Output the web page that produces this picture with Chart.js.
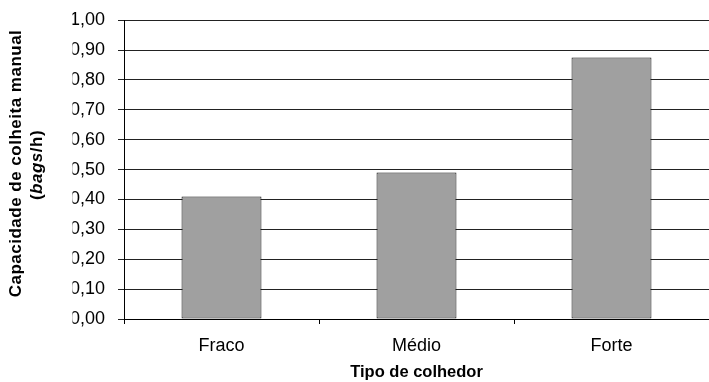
<!DOCTYPE html>
<html>
<head>
<meta charset="utf-8">
<script src="https://cdn.jsdelivr.net/npm/chart.js@4"></script>
<style>
  html, body { margin: 0; padding: 0; background: #fff; }
  canvas { display: block; }
</style>
</head>
<body>
<canvas id="grafico" width="709" height="382"></canvas>
<script>
// datos del gráfico
const categorias = ["Fraco", "Médio", "Forte"]
const capacidade = [0.41, 0.49, 0.875]
const yTickLabels = ["0,00", "0,10", "0,20", "0,30", "0,40", "0,50", "0,60", "0,70", "0,80", "0,90", "1,00"]
const tituloX = "Tipo de colhedor"
const tituloY1 = "Capacidade de colheita manual"
const tituloY2 = ["(", "bags", "/h)"]

const fonte = "'Liberation Sans', Arial, sans-serif"

// título del eje Y (dos líneas, "bags" en cursiva) + recorte de las etiquetas
const tituloYPlugin = {
  id: "tituloY",
  afterDraw(chart) {
    const ctx = chart.ctx
    ctx.save()
    // las etiquetas del eje Y salen recortadas por la izquierda en el original
    ctx.fillStyle = "#fff"
    ctx.fillRect(48, 0, 24.5, 335)

    ctx.fillStyle = "#000"
    ctx.textBaseline = "middle"
    if ("letterSpacing" in ctx) ctx.letterSpacing = "0.5px"

    // línea 1
    ctx.save()
    ctx.translate(16, 163.5)
    ctx.rotate(-Math.PI / 2)
    ctx.font = "bold 17px " + fonte
    ctx.textAlign = "center"
    ctx.fillText(tituloY1, 0, 0)
    ctx.restore()

    // línea 2
    ctx.save()
    ctx.translate(37, 165)
    ctx.rotate(-Math.PI / 2)
    ctx.textAlign = "left"
    const fuentes = ["bold 17px " + fonte, "italic bold 17px " + fonte, "bold 17px " + fonte]
    let total = 0
    const anchos = tituloY2.map((t, i) => {
      ctx.font = fuentes[i]
      const w = ctx.measureText(t).width
      total += w
      return w
    })
    let x = -total / 2
    tituloY2.forEach((t, i) => {
      ctx.font = fuentes[i]
      ctx.fillText(t, x, 0)
      x += anchos[i]
    })
    ctx.restore()

    ctx.restore()
  },
}

new Chart(document.getElementById("grafico").getContext("2d"), {
  type: "bar",
  data: {
    labels: categorias,
    datasets: [
      {
        data: capacidade,
        backgroundColor: "#a0a0a0",
        borderColor: "#111",
        borderWidth: 1,
        borderSkipped: false,
        barPercentage: 0.41,
        categoryPercentage: 1,
      },
    ],
  },
  options: {
    responsive: false,
    animation: false,
    layout: { padding: { top: 20, right: -2, left: 0, bottom: 0 } },
    plugins: {
      legend: { display: false },
      tooltip: { enabled: false },
    },
    scales: {
      x: {
        grid: { drawOnChartArea: false, drawTicks: true, tickLength: 5, color: "#000", offset: true },
        border: { color: "#000", width: 1 },
        ticks: { font: { family: fonte, size: 18 }, color: "#000", padding: 11 },
        title: {
          display: true,
          text: tituloX,
          font: { family: fonte, size: 16.5, weight: "bold" },
          color: "#000",
          padding: { top: 0, bottom: 0 },
        },
        afterFit: (s) => { s.height = 63 },
      },
      y: {
        min: 0,
        max: 1,
        grid: { color: "#222", tickLength: 6 },
        border: { color: "#000", width: 1 },
        ticks: {
          stepSize: 0.1,
          font: { family: fonte, size: 18, lineHeight: 0.8 },
          color: "#000",
          padding: 13,
          callback: (v, i) => yTickLabels[i],
        },
        afterFit: (s) => { s.width = 124 },
      },
    },
  },
  plugins: [tituloYPlugin],
})
</script>
</body>
</html>
